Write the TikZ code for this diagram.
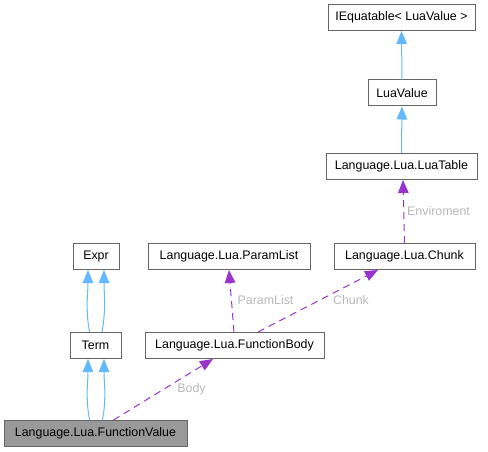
\documentclass[tikz,border=0pt]{standalone}
\usepackage{fontspec}
\setmainfont{Liberation Sans}
\usetikzlibrary{arrows.meta}
\definecolor{inh}{HTML}{63B8FF}
\definecolor{usage}{HTML}{9A32CD}
\definecolor{lbl}{HTML}{B8B8B8}
\definecolor{bord}{HTML}{666666}
\tikzset{
  cls/.style={draw=bord, line width=1pt, fill=white, inner sep=0pt, minimum height=26pt, font=\fontsize{12.4}{14}\selectfont, text=black},
  inhedge/.style={draw=inh, line width=1pt, -{Triangle[length=13pt,width=10.5pt,fill=inh]}},
  useedge/.style={draw=usage, line width=1pt, dash pattern=on 7pt off 5pt, -{Triangle[length=13pt,width=10.5pt,fill=usage]}},
  elabel/.style={text=lbl, font=\fontsize{12.4}{14}\selectfont, inner sep=1pt}
}
\begin{document}
\begin{tikzpicture}[x=1pt,y=-1pt]
\useasboundingbox (0,0) rectangle (488,452);
\node[cls, minimum width=147pt] (ieq) at (401.5,17.5) {IEquatable< LuaValue >};
\node[cls, minimum width=68pt] (luavalue) at (402,93) {LuaValue};
\node[cls, minimum width=151pt] (luatable) at (401.5,166.5) {Language.Lua.LuaTable};
\node[cls, minimum width=141pt] (chunk) at (404.5,256.5) {Language.Lua.Chunk};
\node[cls, minimum width=162pt] (param) at (229,256.5) {Language.Lua.ParamList};
\node[cls, minimum width=46pt] (expr) at (96,256.5) {Expr};
\node[cls, minimum width=51pt] (term) at (95.5,345.5) {Term};
\node[cls, minimum width=179pt] (fbody) at (234.5,345.5) {Language.Lua.FunctionBody};
\node[cls, minimum width=183pt, fill={rgb,255:red,153;green,153;blue,153}] (fvalue) at (95.5,433.5) {Language.Lua.FunctionValue};

\draw[inhedge] (luavalue.north) -- (ieq.south);
\draw[inhedge] (luatable.north) -- (luavalue.south);

\draw[inhedge] ([xshift=-6pt]term.north) to[out=100,in=-90] ([xshift=-8pt]expr.south);
\draw[inhedge] ([xshift=6.5pt]term.north) to[out=80,in=-90] ([xshift=8pt]expr.south);
\draw[inhedge] ([xshift=-6pt]fvalue.north) to[out=100,in=-90] ([xshift=-7.5pt]term.south);
\draw[inhedge] ([xshift=7pt]fvalue.north) to[out=80,in=-90] ([xshift=8.5pt]term.south);

\draw[useedge] (chunk.north) -- ([xshift=1.5pt]luatable.south);
\node[elabel] (lenv) at (438.5,211) {Enviroment};
\draw[useedge] ([xshift=-0.5pt]fbody.north) -- (param.south);
\node[elabel] (lparam) at (265.5,300) {ParamList};
\draw[useedge] ([xshift=23.5pt]fbody.north) -- ([xshift=-26.5pt]chunk.south);
\node[elabel] (lchunk) at (351,300) {Chunk};
\draw[useedge] ([xshift=18pt]fvalue.north) -- ([xshift=-21.5pt]fbody.south);
\node[elabel] (lbody) at (191.5,389) {Body};
\end{tikzpicture}
\end{document}
